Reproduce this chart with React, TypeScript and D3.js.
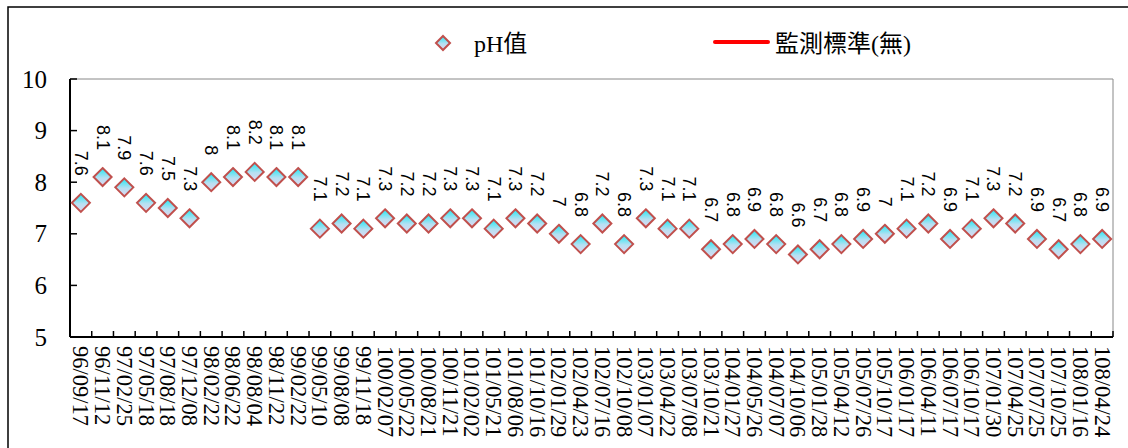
import React from "react";
import * as d3 from "d3";

const categories = [
  "96/09/17", "96/11/12", "97/02/25", "97/05/18", "97/08/18", "97/12/08",
  "98/02/22", "98/06/22", "98/08/04", "98/11/22", "99/02/22", "99/05/10",
  "99/08/08", "99/11/18", "100/02/07", "100/05/22", "100/08/21", "100/11/21",
  "101/02/02", "101/05/21", "101/08/06", "101/10/16", "102/01/29", "102/04/23",
  "102/07/16", "102/10/08", "103/01/07", "103/04/22", "103/07/08", "103/10/21",
  "104/01/27", "104/05/26", "104/07/07", "104/10/06", "105/01/28", "105/04/12",
  "105/07/26", "105/10/17", "106/01/17", "106/04/11", "106/07/17", "106/10/17",
  "107/01/30", "107/04/25", "107/07/25", "107/10/25", "108/01/16", "108/04/24",
];

const phValues = [
  7.6, 8.1, 7.9, 7.6, 7.5, 7.3, 8, 8.1, 8.2, 8.1, 8.1, 7.1,
  7.2, 7.1, 7.3, 7.2, 7.2, 7.3, 7.3, 7.1, 7.3, 7.2, 7, 6.8,
  7.2, 6.8, 7.3, 7.1, 7.1, 6.7, 6.8, 6.9, 6.8, 6.6, 6.7, 6.8,
  6.9, 7, 7.1, 7.2, 6.9, 7.1, 7.3, 7.2, 6.9, 6.7, 6.8, 6.9,
];

const yTicks = [5, 6, 7, 8, 9, 10];
const legendLabels = ["pH值", "監測標準(無)"];

const W = 1128;
const H = 448;
const plot = { left: 70, right: 1113, top: 79, bottom: 337 };

const serif = "Liberation Serif, Noto Sans CJK TC, serif";
const sans = "Liberation Sans, Arial, sans-serif";

function diamond(cx: number, cy: number, r: number) {
  return `M${cx},${cy - r}L${cx + r},${cy}L${cx},${cy + r}L${cx - r},${cy}Z`;
}

export default function App() {
  const x = d3
    .scaleBand<string>()
    .domain(categories)
    .range([plot.left, plot.right])
    .paddingInner(0)
    .paddingOuter(0);
  const y = d3.scaleLinear().domain([5, 10]).range([plot.bottom, plot.top]);
  const bw = x.bandwidth();
  const boundaries = d3.range(categories.length + 1).map((i) => plot.left + i * bw);

  return (
    <svg
      width={W}
      height={H}
      style={{ position: "absolute", left: 0, top: 0, background: "#fff" }}
    >
      <defs>
        <linearGradient id="mk" x1="0" y1="0" x2="0" y2="1">
          <stop offset="0" stopColor="#1EE8F2" />
          <stop offset="0.55" stopColor="#B8E0F2" />
          <stop offset="1" stopColor="#DCD6F0" />
        </linearGradient>
      </defs>
      <rect x={0} y={0} width={W} height={H} fill="#fff" />
      <rect x={8} y={7} width={W + 10} height={H + 10} fill="none" stroke="#000" strokeWidth={1.5} />

      <line x1={plot.left} x2={plot.right} y1={plot.top} y2={plot.top} stroke="#888" strokeWidth={1} />
      <line x1={plot.right} x2={plot.right} y1={plot.top} y2={plot.bottom} stroke="#888" strokeWidth={1} />

      <line x1={plot.left} x2={plot.left} y1={plot.top} y2={plot.bottom} stroke="#000" strokeWidth={2} />
      {yTicks.map((t) => (
        <g key={t}>
          <line x1={plot.left} x2={plot.left + 7} y1={y(t)} y2={y(t)} stroke="#000" strokeWidth={1.5} />
          <text
            x={47}
            y={y(t)}
            textAnchor="end"
            dominantBaseline="central"
            style={{ fontFamily: serif, fontSize: 25 }}
            fill="#000"
          >
            {t}
          </text>
        </g>
      ))}

      <line x1={plot.left} x2={plot.right} y1={plot.bottom} y2={plot.bottom} stroke="#000" strokeWidth={2} />
      {boundaries.map((bx, i) => (
        <line key={i} x1={bx} x2={bx} y1={plot.bottom} y2={plot.bottom - 6} stroke="#000" strokeWidth={1.5} />
      ))}
      {categories.map((c) => {
        const cx = (x(c) as number) + bw / 2;
        return (
          <text
            key={c}
            transform={`translate(${cx},${plot.bottom + 9}) rotate(90)`}
            textAnchor="start"
            dominantBaseline="central"
            style={{ fontFamily: serif, fontSize: 22.5 }}
            fill="#000"
          >
            {c}
          </text>
        );
      })}

      {categories.map((c, i) => {
        const cx = (x(c) as number) + bw / 2;
        const cy = y(phValues[i]);
        return (
          <path
            key={c}
            d={diamond(cx, cy, 9)}
            fill="url(#mk)"
            stroke="#C0504D"
            strokeWidth={2}
          />
        );
      })}

      {categories.map((c, i) => {
        const cx = (x(c) as number) + bw / 2;
        const cy = y(phValues[i]);
        return (
          <text
            key={c}
            transform={`translate(${cx},${cy - 27}) rotate(90)`}
            textAnchor="end"
            dominantBaseline="central"
            style={{ fontFamily: sans, fontSize: 18 }}
            fill="#000"
          >
            {String(phValues[i])}
          </text>
        );
      })}

      <path d={diamond(443, 43, 7)} fill="url(#mk)" stroke="#C0504D" strokeWidth={2} />
      <text x={474} y={44} dominantBaseline="central" style={{ fontFamily: serif, fontSize: 24 }} fill="#000">
        {legendLabels[0]}
      </text>
      <line x1={715} x2={768} y1={42} y2={42} stroke="#FF0000" strokeWidth={4} strokeLinecap="round" />
      <text x={775} y={44} dominantBaseline="central" style={{ fontFamily: serif, fontSize: 24 }} fill="#000">
        {legendLabels[1]}
      </text>
    </svg>
  );
}
